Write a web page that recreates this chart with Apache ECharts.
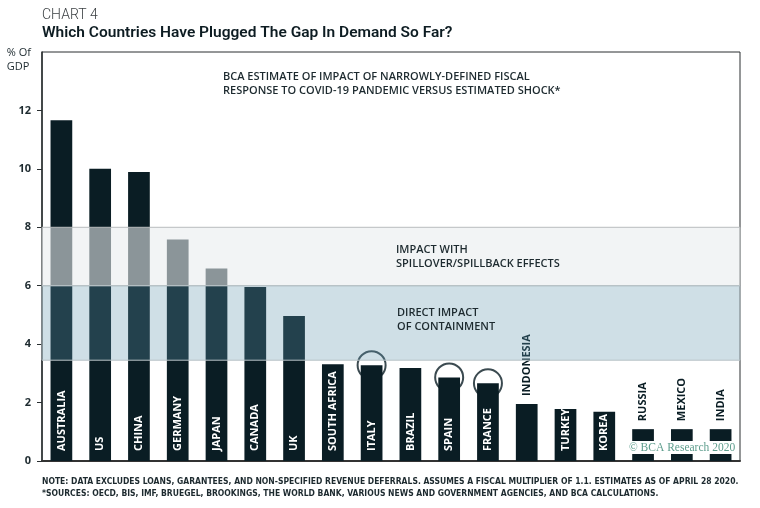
<!DOCTYPE html>
<html><head><meta charset="utf-8">
<script src="https://cdn.jsdelivr.net/npm/echarts@6/dist/echarts.min.js"></script>
<style>html,body{margin:0;padding:0;background:#fff}#c{width:760px;height:508px}</style>
</head><body><div id="c"></div>
<script>
const countries = ['AUSTRALIA','US','CHINA','GERMANY','JAPAN','CANADA','UK','SOUTH AFRICA','ITALY','BRAZIL','SPAIN','FRANCE','INDONESIA','TURKEY','KOREA','RUSSIA','MEXICO','INDIA'];
const fiscalResponse = [11.66, 10.0, 9.89, 7.58, 6.59, 5.96, 4.96, 3.31, 3.28, 3.18, 2.86, 2.66, 1.95, 1.78, 1.69, 1.09, 1.09, 1.09];
const labelAbove = ['INDONESIA','RUSSIA','MEXICO','INDIA'];
const circled = ['ITALY','SPAIN','FRANCE'];
const directImpactBand = [3.45, 6];
const spilloverBand = [6, 8];
const yTicks = [0, 2, 4, 6, 8, 10, 12];

const dark = '#0a1d24';
const chart = echarts.init(document.getElementById('c'), null, {renderer:'canvas'});

const barData = countries.map((c, i) => {
  const above = labelAbove.includes(c);
  return {
    value: fiscalResponse[i],
    label: above ? {
      show: true, position: 'top', rotate: 90, align: 'left', verticalAlign: 'middle',
      distance: 8, color: dark, fontFamily: 'Open Sans', fontWeight: 700, fontSize: 11, formatter: c
    } : {
      show: true, position: 'insideBottom', rotate: 90, align: 'left', verticalAlign: 'middle',
      distance: 10, color: '#fff', fontFamily: 'Open Sans', fontWeight: 700, fontSize: 11, formatter: c
    }
  };
});

const circleData = countries.map((c, i) => circled.includes(c) ? [c, fiscalResponse[i]] : null).filter(d => d);

chart.setOption({
  animation: false,
  backgroundColor: '#fff',
  title: [{
    text: '© BCA Research 2020', left: 627, top: 441, z: 20,
    backgroundColor: '#fff', padding: [0, 2],
    textStyle: {fontFamily: 'Liberation Serif', fontSize: 11.5, fontWeight: 'normal', color: '#5f9e8e', lineHeight: 13}
  }],
  grid: {left: 42, right: 20, top: 52, bottom: 47, show: true, borderColor: '#2a2f31', borderWidth: 1, backgroundColor: 'transparent'},
  xAxis: {
    type: 'category', data: countries,
    axisLine: {show: true, lineStyle: {color: '#333', width: 2}},
    axisTick: {show: false}, axisLabel: {show: false}
  },
  yAxis: {
    type: 'value', min: 0, max: 14, interval: 2,
    splitLine: {show: false},
    axisLine: {show: true, lineStyle: {color: '#2a2f31', width: 1.5}},
    axisTick: {show: true, length: 5, lineStyle: {color: '#2a2f31'}, customValues: yTicks},
    axisLabel: {margin: 11, color: '#1d2a2f', fontFamily: 'Open Sans', fontWeight: 700, fontSize: 11, customValues: yTicks}
  },
  series: [
    {
      type: 'scatter', z: 1, data: circleData, symbol: 'circle', symbolSize: 28,
      itemStyle: {color: 'rgba(0,0,0,0)', borderColor: dark, borderWidth: 2},
      silent: true
    },
    {
      type: 'bar', z: 3, data: barData, barWidth: '56%',
      itemStyle: {color: dark}
    },
    {
      type: 'line', z: 5, data: countries.map(() => null), silent: true,
      markArea: {
        silent: true, z: 8,
        data: [
          [{yAxis: spilloverBand[0], itemStyle: {color: 'rgba(233,236,237,0.58)', borderColor: '#b8bcbd', borderWidth: 1}}, {yAxis: spilloverBand[1]}],
          [{yAxis: directImpactBand[0], itemStyle: {color: 'rgba(95,150,172,0.3)', borderColor: '#b8c2c6', borderWidth: 1}}, {yAxis: directImpactBand[1]}]
        ]
      }
    }
  ],
  graphic: [
    {type: 'text', left: 42, top: 8, style: {text: 'CHART 4', font: '300 14px Roboto', fill: '#3a3f42'}},
    {type: 'text', left: 42, top: 25, style: {text: 'Which Countries Have Plugged The Gap In Demand So Far?', font: '600 15.5px Roboto', fill: '#0d1c22'}},
    {type: 'text', right: 729, top: 46, style: {text: '% Of\nGDP', font: '500 11px Open Sans', fill: '#1d2a2f', align: 'right', lineHeight: 14}},
    {type: 'text', left: 223, top: 70, z: 20, style: {text: 'BCA ESTIMATE OF IMPACT OF NARROWLY-DEFINED FISCAL\nRESPONSE TO COVID-19 PANDEMIC VERSUS ESTIMATED SHOCK*', font: '600 11px Open Sans', fill: '#1d2a2f', lineHeight: 14}},
    {type: 'text', left: 396, top: 243, z: 20, style: {text: 'IMPACT WITH\nSPILLOVER/SPILLBACK EFFECTS', font: '600 11px Open Sans', fill: '#1d2a2f', lineHeight: 14}},
    {type: 'text', left: 397, top: 306, z: 20, style: {text: 'DIRECT IMPACT\nOF CONTAINMENT', font: '600 11px Open Sans', fill: '#1d2a2f', lineHeight: 14}},
    {type: 'text', left: 42, top: 476, style: {text: 'NOTE: DATA EXCLUDES LOANS, GARANTEES, AND NON-SPECIFIED REVENUE DEFERRALS. ASSUMES A FISCAL MULTIPLIER OF 1.1. ESTIMATES AS OF APRIL 28 2020.\n*SOURCES: OECD, BIS, IMF, BRUEGEL, BROOKINGS, THE WORLD BANK, VARIOUS NEWS AND GOVERNMENT AGENCIES, AND BCA CALCULATIONS.', font: '700 8.5px "Liberation Sans Narrow", "DejaVu Sans Condensed"', fill: '#1d2a2f', lineHeight: 12}}
  ]
});
</script></body></html>
